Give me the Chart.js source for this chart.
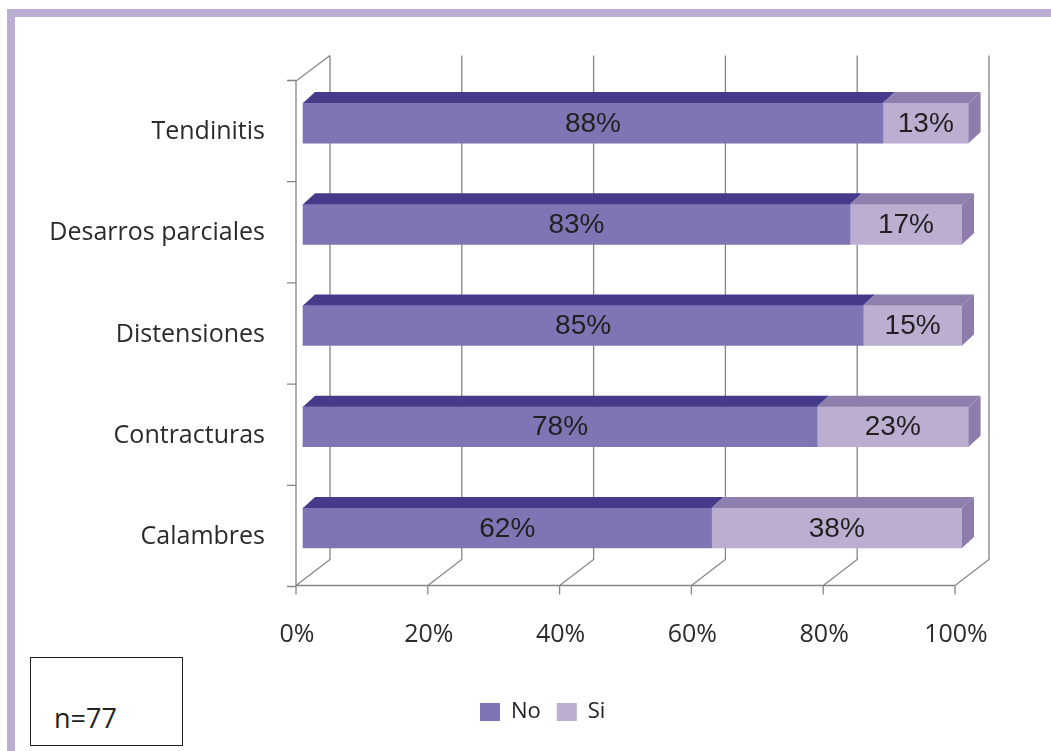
<!DOCTYPE html>
<html>
<head>
<meta charset="utf-8">
<script src="https://cdn.jsdelivr.net/npm/chart.js@4.4.1/dist/chart.umd.min.js"></script>
<style>
    body { margin: 0; background: #fff; }
    #wrap { position: relative; width: 1051px; height: 751px; overflow: hidden; }
    #lesionesChart { position: absolute; left: 0; top: 0; }
    .frame-top { position: absolute; left: 7px; top: 9px; width: 1044px; height: 8px; background: #bcaed2; }
    .frame-left { position: absolute; left: 7px; top: 9px; width: 8px; height: 742px; background: #bcaed2; }
    .nbox {
        position: absolute; left: 30px; top: 657px; width: 153px; height: 89px;
        box-sizing: border-box; border: 1.5px solid #1e1e1e; background: #fff;
    }
    .nbox span {
        position: absolute; left: 23px; top: 46px;
        font-family: "Open Sans", sans-serif; font-size: 27px; line-height: 1; color: #222;
    }
</style>
</head>
<body>
<div id="wrap">
    <div class="frame-top"></div>
    <div class="frame-left"></div>
    <canvas id="lesionesChart" width="1051" height="751"></canvas>
    <div class="nbox"><span>n=77</span></div>
</div>
<script>
// Lesiones musculares - barras 100% apiladas con efecto 3D

const categories = ['Tendinitis', 'Desarros parciales', 'Distensiones', 'Contracturas', 'Calambres'];
const seriesNames = ['No', 'Si'];
const noValues = [88, 83, 85, 78, 62];
const siValues = [13, 17, 15, 23, 38];

const frontColors = ['#7f75b4', '#bbaed1'];
const topColors = ['#463a8b', '#8f7fae'];
const sideColor = '#8e7cad';
const lineColor = '#858585';

// profundidad de las barras
const BAR_DX = 12;
const BAR_DY = 11;

const labelFont = { family: 'Open Sans', size: 25 };

function drawWalls(chart) {
    const { ctx, chartArea: a, scales: { x, y } } = chart;
    const fx = v => x.getPixelForValue(v) - 7;
    const bx = v => x.getPixelForValue(v) + 27;
    const ft = a.top + 8.5, fb = a.bottom + 7;
    const bt = a.top - 17, bb = a.bottom - 19;

    ctx.save();
    ctx.strokeStyle = lineColor;
    ctx.lineWidth = 1.3;
    ctx.beginPath();
    x.ticks.forEach(t => {
        const v = t.value;
        ctx.moveTo(bx(v), bt);
        ctx.lineTo(bx(v), bb);
        ctx.lineTo(fx(v), fb);
        ctx.lineTo(fx(v), fb + 9);
    });
    ctx.moveTo(fx(0), fb);
    ctx.lineTo(fx(100), fb);
    ctx.moveTo(fx(0), fb);
    ctx.lineTo(fx(0), ft);
    ctx.lineTo(bx(0), bt);
    for (let i = 0; i <= categories.length; i++) {
        const yy = y.getPixelForValue(i - 0.5) + 8;
        ctx.moveTo(fx(0) - 9, yy);
        ctx.lineTo(fx(0), yy);
    }
    ctx.stroke();
    ctx.restore();
}

function drawFaces(chart) {
    const { ctx } = chart;
    const last = chart.data.datasets.length - 1;
    ctx.save();
    chart.data.datasets.forEach((ds, di) => {
        const meta = chart.getDatasetMeta(di);
        meta.data.forEach(bar => {
            const { x, y, base, height } = bar.getProps(['x', 'y', 'base', 'height'], true);
            const top = y - height / 2;
            const bottom = y + height / 2;
            ctx.fillStyle = topColors[di];
            ctx.beginPath();
            ctx.moveTo(base, top);
            ctx.lineTo(x, top);
            ctx.lineTo(x + BAR_DX, top - BAR_DY);
            ctx.lineTo(base + BAR_DX, top - BAR_DY);
            ctx.closePath();
            ctx.fill();
            if (di === last) {
                ctx.fillStyle = sideColor;
                ctx.beginPath();
                ctx.moveTo(x, top);
                ctx.lineTo(x + BAR_DX, top - BAR_DY);
                ctx.lineTo(x + BAR_DX, bottom - BAR_DY);
                ctx.lineTo(x, bottom);
                ctx.closePath();
                ctx.fill();
            }
        });
    });

    // etiquetas de porcentaje
    ctx.font = '28px "Liberation Sans", Arial, sans-serif';
    ctx.fillStyle = '#231f20';
    ctx.textAlign = 'center';
    ctx.textBaseline = 'middle';
    chart.data.datasets.forEach((ds, di) => {
        chart.getDatasetMeta(di).data.forEach((bar, i) => {
            const { x, y, base } = bar.getProps(['x', 'y', 'base'], true);
            ctx.fillText(ds.data[i] + '%', (x + base) / 2, y + 1);
        });
    });
    ctx.restore();
}

const threeD = {
    id: 'threeD',
    // la leyenda va centrada bajo el grafico, no bajo todo el lienzo
    afterLayout(chart) {
        chart.legend.left = 464;
    },
    beforeDatasetsDraw: drawWalls,
    afterDatasetsDraw: drawFaces
};

new Chart(document.getElementById('lesionesChart'), {
    type: 'bar',
    data: {
        labels: categories,
        datasets: [
            { label: seriesNames[0], data: noValues, backgroundColor: frontColors[0] },
            { label: seriesNames[1], data: siValues, backgroundColor: frontColors[1] }
        ]
    },
    options: {
        responsive: false,
        animation: false,
        indexAxis: 'y',
        datasets: {
            bar: { barThickness: 40, borderWidth: 0, clip: false }
        },
        layout: {
            padding: { top: 72.5, right: 89, left: 30, bottom: 18 }
        },
        plugins: {
            legend: {
                position: 'bottom',
                align: 'start',
                labels: {
                    boxWidth: 20,
                    boxHeight: 18,
                    padding: 16,
                    color: '#222',
                    font: { family: 'Open Sans', size: 22 }
                }
            },
            tooltip: { enabled: false }
        },
        scales: {
            x: {
                stacked: true,
                min: 0,
                max: 100,
                ticks: {
                    stepSize: 20,
                    callback: v => v + '%',
                    labelOffset: -6,
                    padding: 41,
                    maxRotation: 0,
                    color: '#2b2b2b',
                    font: labelFont
                },
                grid: { display: false, drawTicks: false },
                border: { display: false },
                afterFit: s => { s.height = 106.5; }
            },
            y: {
                stacked: true,
                ticks: {
                    padding: 38,
                    labelOffset: 9,
                    color: '#2b2b2b',
                    font: labelFont
                },
                grid: { display: false, drawTicks: false },
                border: { display: false },
                afterFit: s => { s.width = 273; }
            }
        }
    },
    plugins: [threeD]
});
</script>
</body>
</html>
